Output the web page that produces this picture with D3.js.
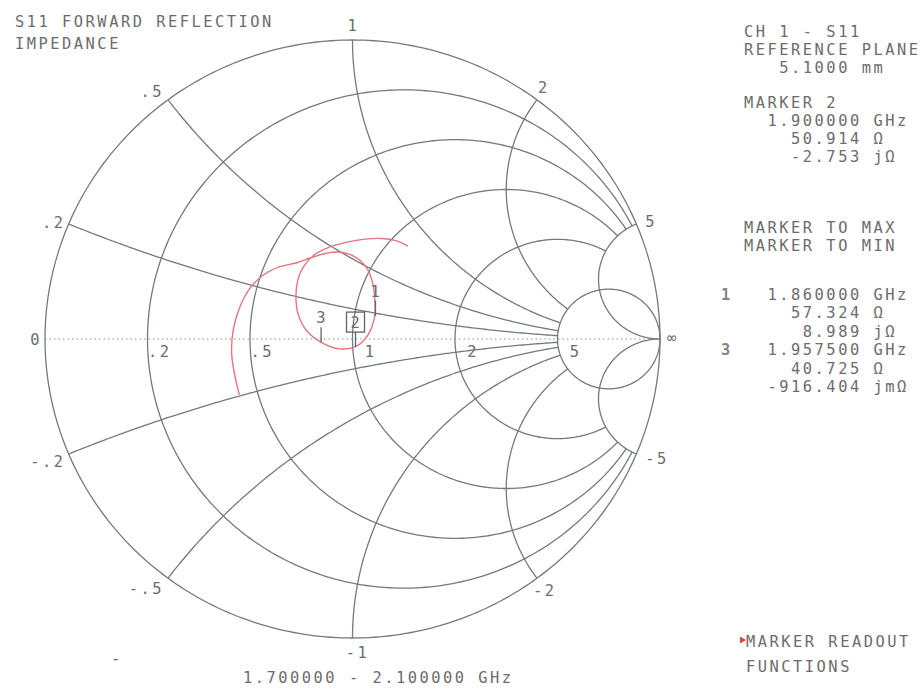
<!DOCTYPE html>
<html>
<head>
<meta charset="utf-8">
<script src="https://cdnjs.cloudflare.com/ajax/libs/d3/7.8.5/d3.min.js"></script>
<style>
body { margin: 0; background: #fff; }
text { font-family: "DejaVu Sans Mono", "Liberation Mono", monospace; font-size: 15.4px; fill: #6c6c6c; letter-spacing: 2.5px; white-space: pre; }
</style>
</head>
<body>
<div id="chart"></div>
<script>
// grid values of the impedance chart
const resistances = [0.2, 0.5, 1, 2, 5];
const rLabels = [".2", ".5", "1", "2", "5"];
const reactances = [0.2, 0.5, 1, 2, 5];
const xLabels = [".2", ".5", "1", "2", "5"];
const xNegLabels = ["-.2", "-.5", "-1", "-2", "-5"];

const traceRe = [-0.368, -0.382, -0.393, -0.388, -0.366, -0.333, -0.290, -0.236, -0.181, -0.138, -0.089,
  -0.047, 0.002, 0.044, 0.067, 0.073, 0.072, 0.050, 0.011, -0.041, -0.102, -0.151, -0.177, -0.184,
  -0.177, -0.158, -0.125, -0.073, -0.018, 0.041, 0.096, 0.141, 0.180];
const traceIm = [-0.187, -0.126, -0.048, 0.030, 0.108, 0.170, 0.214, 0.242, 0.255, 0.271, 0.286,
  0.291, 0.278, 0.241, 0.181, 0.120, 0.075, 0.013, -0.025, -0.033, -0.011, 0.030, 0.084, 0.144,
  0.201, 0.244, 0.281, 0.308, 0.324, 0.334, 0.336, 0.329, 0.311];

// markers (readout values)
const markerIds = ["1", "2", "3"];
const markerFreq = [1.86, 1.9, 1.9575];      // GHz
const markerR = [57.324, 50.914, 40.725];    // ohm
const markerX = [8.989, -2.753, -0.916404];  // ohm
const activeMarker = "2";
const z0 = 50;

const startFreq = 1.7, stopFreq = 2.1;
const refPlane = 5.1; // mm

const width = 924, height = 690;

const svg = d3.select("#chart")
    .append("svg")
    .attr("width", width)
    .attr("height", height);

// reflection plane -> pixels (the screen is slightly wider than tall)
const x = d3.scaleLinear().domain([-1, 1]).range([45, 660]);
const y = d3.scaleLinear().domain([-1, 1]).range([638, 40]);

function gamma(r, xx) {
    const d = (r + 1) * (r + 1) + xx * xx;
    return [(r * r + xx * xx - 1) / d, 2 * xx / d];
}

const line = d3.line()
    .x(d => x(d[0]))
    .y(d => y(d[1]));

const gridColor = "#737a80";
const grid = svg.append("g")
    .attr("fill", "none")
    .attr("stroke", gridColor)
    .attr("stroke-width", 1.3);

// outer circle
grid.append("path")
    .attr("d", line(d3.range(0, 361).map(i => [Math.cos(i * Math.PI / 180), Math.sin(i * Math.PI / 180)])));

// resistance circles, cut where |x| > 5 (the r=5 circle is complete)
resistances.forEach(r => {
    const cx = r / (1 + r), rad = 1 / (1 + r);
    let a = 0;
    if (r < 5) {
        const g = gamma(r, 5);
        a = Math.atan2(g[1], g[0] - cx);
    }
    const pts = d3.range(0, 301).map(i => {
        const t = a + (2 * Math.PI - 2 * a) * i / 300;
        return [cx + rad * Math.cos(t), rad * Math.sin(t)];
    });
    grid.append("path").attr("d", line(pts));
});

// reactance arcs, cut at r = 5 (the x=±5 arcs run to the edge)
reactances.forEach(xx => {
    const cy = 1 / xx, rad = 1 / xx;
    const g0 = gamma(0, xx);
    const g1 = xx < 5 ? gamma(5, xx) : [1, 0];
    let a0 = Math.atan2(g0[1] - cy, g0[0] - 1);
    let a1 = Math.atan2(g1[1] - cy, g1[0] - 1);
    if (a0 < 0) a0 += 2 * Math.PI;
    if (a1 < 0) a1 += 2 * Math.PI;
    if (a1 < a0) a1 += 2 * Math.PI;
    const pts = d3.range(0, 201).map(i => {
        const t = a0 + (a1 - a0) * i / 200;
        return [1 + rad * Math.cos(t), cy + rad * Math.sin(t)];
    });
    grid.append("path").attr("d", line(pts));
    grid.append("path").attr("d", line(pts.map(p => [p[0], -p[1]])));
});

// real axis, dotted
svg.append("line")
    .attr("x1", x(-1)).attr("x2", x(1))
    .attr("y1", y(0)).attr("y2", y(0))
    .attr("stroke", "#8a9096")
    .attr("stroke-width", 1.2)
    .attr("stroke-dasharray", "1.5,3");

// grid labels
const labels = svg.append("g");
labels.append("text").attr("x", x(-1) - 3).attr("y", y(0) + 6).attr("text-anchor", "end").text("0");
labels.append("text").attr("x", x(1) + 13).attr("y", y(0) + 4).attr("text-anchor", "middle").text("\u221e");

resistances.forEach((r, i) => {
    const g = gamma(r, 0);
    labels.append("text")
        .attr("x", x(g[0]) + 24)
        .attr("y", y(0) + 18)
        .attr("text-anchor", "end")
        .text(rLabels[i]);
});

// label offsets around the rim: [dx, dy, anchor] for +x and for -x
const rimPos = [
    [[-3, 4, "end"], [-3, 13, "end"]],
    [[-4, -3, "end"], [-4, 16, "end"]],
    [[1, -9, "middle"], [5, 20, "middle"]],
    [[1, -7, "start"], [-4, 18, "start"]],
    [[9, 3, "start"], [9, 10, "start"]]
];
reactances.forEach((xx, i) => {
    const g = gamma(0, xx);
    const p = rimPos[i];
    labels.append("text")
        .attr("x", x(g[0]) + p[0][0])
        .attr("y", y(g[1]) + p[0][1])
        .attr("text-anchor", p[0][2])
        .text(xLabels[i]);
    labels.append("text")
        .attr("x", x(g[0]) + p[1][0])
        .attr("y", y(-g[1]) + p[1][1])
        .attr("text-anchor", p[1][2])
        .text(xNegLabels[i]);
});

// the trace
const trace = traceRe.map((d, i) => [d, traceIm[i]]);
svg.append("path")
    .attr("d", line.curve(d3.curveCatmullRom)(trace))
    .attr("fill", "none")
    .attr("stroke", "#e2767c")
    .attr("stroke-width", 1.4);

// markers on the trace
markerIds.forEach((id, i) => {
    const g = gamma(markerR[i] / z0, markerX[i] / z0);
    const px = x(g[0]), py = y(g[1]);
    svg.append("line")
        .attr("x1", px).attr("x2", px)
        .attr("y1", py - 15).attr("y2", py)
        .attr("stroke", "#5f6468").attr("stroke-width", 1.3);
    if (id === activeMarker) {
        svg.append("rect")
            .attr("x", px - 9).attr("y", py - 35)
            .attr("width", 18).attr("height", 20)
            .attr("fill", "none").attr("stroke", "#5f6468").attr("stroke-width", 1.3);
    }
    svg.append("text")
        .attr("x", px + 1)
        .attr("y", py - 19)
        .attr("text-anchor", "middle")
        .text(id);
});

// title
svg.append("text").attr("x", 15).attr("y", 27).text("S11 FORWARD REFLECTION");
svg.append("text").attr("x", 15).attr("y", 49).text("IMPEDANCE");

// readout panel
const fmtR = v => v.toFixed(3);
const fmtX = v => Math.abs(v) < 1 ? [(v * 1000).toFixed(3), "jm\u03a9"] : [v.toFixed(3), "j\u03a9"];
const field = (v, n) => v.padStart(n);
const px0 = 744;
const panel = svg.append("g");
function row(str, yy, xx) {
    panel.append("text").attr("x", xx === undefined ? px0 : xx).attr("y", yy).text(str);
}
row("CH 1 - S11", 37);
row("REFERENCE PLANE", 55);
row(field(refPlane.toFixed(4), 9) + " mm", 73);

const a = markerIds.indexOf(activeMarker);
row("MARKER " + activeMarker, 108);
row(field(markerFreq[a].toFixed(6), 10) + " GHz", 126);
row(field(fmtR(markerR[a]), 10) + " \u03a9", 144);
row(field(fmtX(markerX[a])[0], 10) + " " + fmtX(markerX[a])[1], 162);

row("MARKER TO MAX", 233);
row("MARKER TO MIN", 251);

markerIds.filter(id => id !== activeMarker).forEach((id, k) => {
    const i = markerIds.indexOf(id);
    const y0 = 300 + k * 55.2;
    panel.append("text")
        .attr("x", 721).attr("y", y0)
        .attr("font-weight", "bold")
        .style("fill", "#858585")
        .text(id);
    row(field(markerFreq[i].toFixed(6), 10) + " GHz", y0);
    row(field(fmtR(markerR[i]), 10) + " \u03a9", y0 + 18.4);
    row(field(fmtX(markerX[i])[0], 10) + " " + fmtX(markerX[i])[1], y0 + 36.8);
});

// softkey hint
svg.append("path")
    .attr("d", d3.symbol().type(d3.symbolTriangle).size(22)())
    .attr("transform", "translate(742,640) rotate(90)")
    .attr("fill", "#e0463c");
row("MARKER READOUT", 647, 746);
row("FUNCTIONS", 672, 746);

svg.append("text").attr("x", 117).attr("y", 664).attr("text-anchor", "middle").text("-");

// sweep span
svg.append("text")
    .attr("x", 243).attr("y", 683)
    .text(startFreq.toFixed(6) + " - " + stopFreq.toFixed(6) + " GHz");
</script>
</body>
</html>
